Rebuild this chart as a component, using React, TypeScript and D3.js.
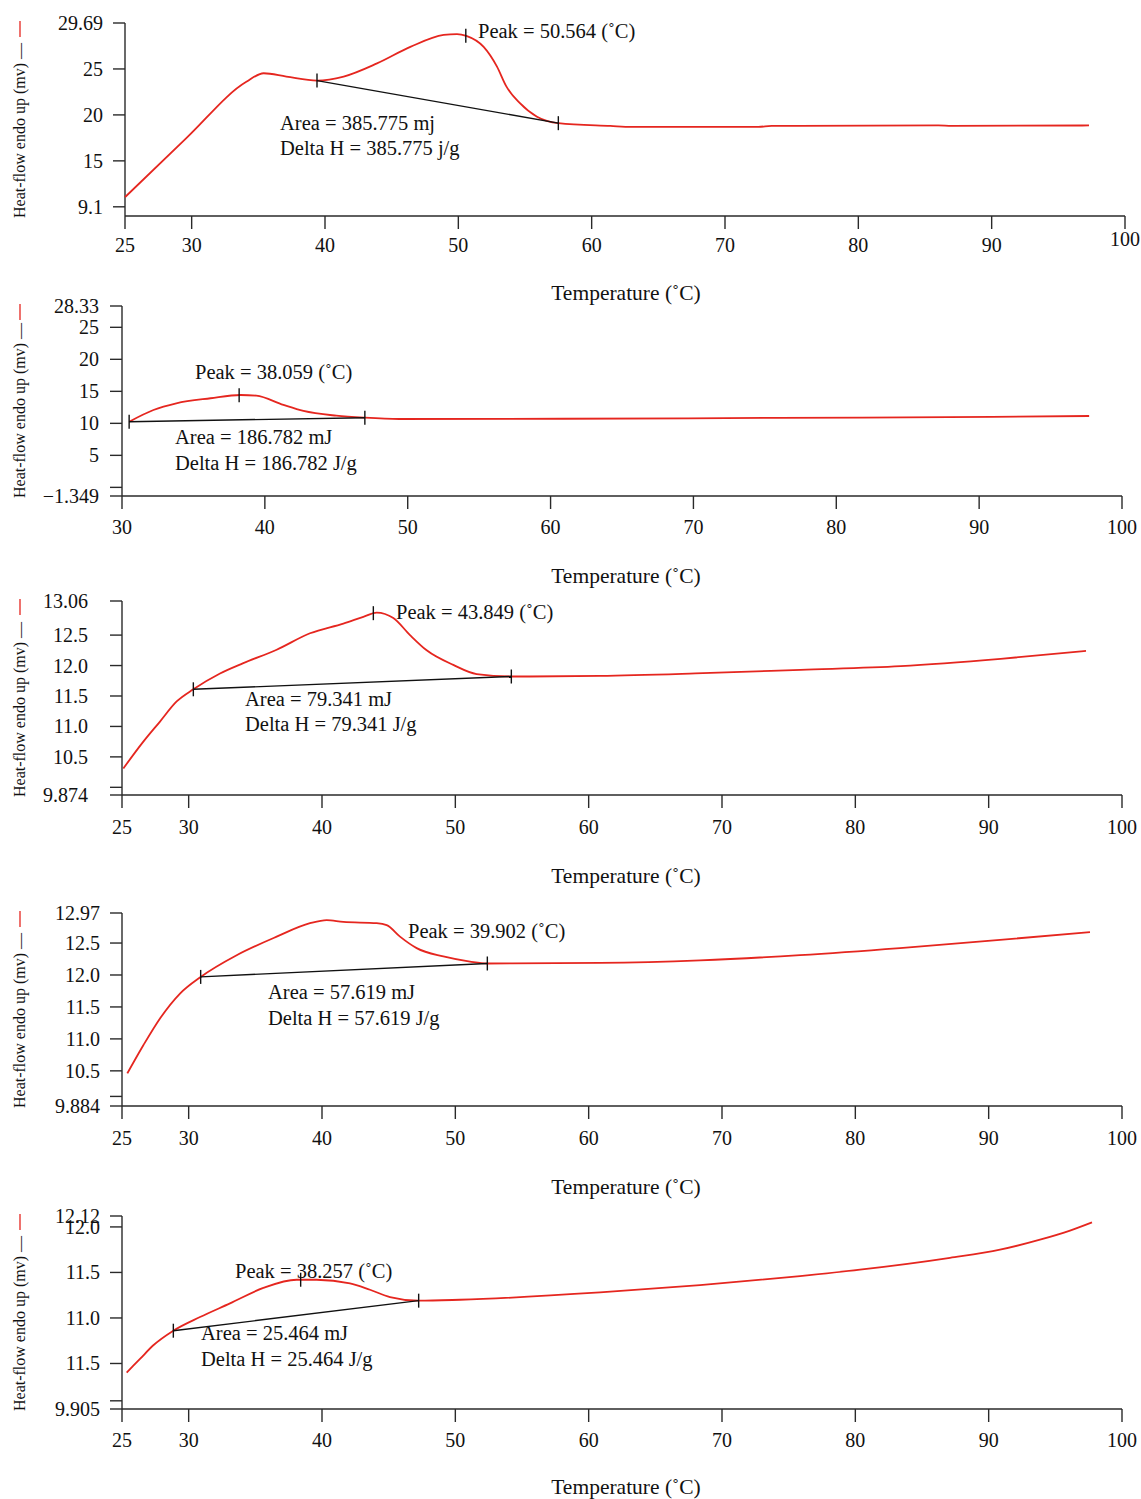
import React from "react";
import * as d3 from "d3";

// ---------- DATA ----------
const xTicksA = [25, 30, 40, 50, 60, 70, 80, 90, 100];
const xTicksB = [30, 40, 50, 60, 70, 80, 90, 100];

// Panel 1
const p1Temp = [25.0, 29.6, 34.1, 35.4, 37.1, 39.4, 41.4, 43.9, 46.4, 48.9, 49.9, 50.6, 51.9, 52.9, 53.6, 54.6, 55.9, 57.5, 61.4, 63.0, 72.5, 73.5, 86.0, 87.0, 97.3];
const p1Heat = [11.05, 17.47, 23.6, 24.53, 24.17, 23.73, 24.17, 25.6, 27.4, 28.7, 28.8, 28.6, 27.4, 25.25, 23.1, 21.3, 19.8, 19.1, 18.8, 18.7, 18.7, 18.8, 18.85, 18.8, 18.85];
const p1Base = [[39.4, 23.73], [57.5, 19.1]];
const p1Peak = [50.56, 28.6];
const p1YTicks = [30, 25, 20, 15, 10];
const p1YLabels = ["29.69", "25", "20", "15", "9.1"];
const p1YDomain = [9.0, 30.0];
const p1Text = ["Peak = 50.564 (˚C)", "Area = 385.775 mj", "Delta H = 385.775 j/g"];

// Panel 2
const p2Temp = [30.5, 32.2, 33.8, 36.2, 38.3, 39.4, 41.3, 42.7, 45.0, 47.0, 49.4, 60.9, 75.9, 90.9, 97.7];
const p2Heat = [10.26, 12.09, 13.13, 13.92, 14.43, 14.32, 12.87, 11.93, 11.2, 10.88, 10.68, 10.72, 10.85, 11.0, 11.15];
const p2Base = [[30.5, 10.26], [47.0, 10.88]];
const p2Peak = [38.2, 14.4];
const p2YTicks = [28.33, 25, 20, 15, 10, 5, 0, -1.349];
const p2YLabels = ["28.33", "25", "20", "15", "10", "5", "", "\u22121.349"];
const p2YDomain = [-1.349, 28.33];
const p2Text = ["Peak = 38.059 (˚C)", "Area = 186.782 mJ", "Delta H = 186.782 J/g"];

// Panel 3
const p3Temp = [25.1, 26.6, 27.85, 29.1, 30.35, 32.35, 34.1, 36.6, 39.1, 41.6, 43.1, 44.1, 45.35, 46.6, 47.85, 49.85, 51.6, 54.2, 60.85, 68.0, 75.9, 83.4, 90.9, 97.3];
const p3Heat = [10.31, 10.75, 11.08, 11.41, 11.61, 11.87, 12.04, 12.26, 12.53, 12.69, 12.8, 12.87, 12.78, 12.5, 12.25, 12.01, 11.86, 11.82, 11.83, 11.87, 11.93, 11.99, 12.11, 12.24];
const p3Base = [[30.35, 11.61], [54.2, 11.82]];
const p3Peak = [43.85, 12.86];
const p3YTicks = [13.06, 12.5, 12.0, 11.5, 11.0, 10.5, 10.0, 9.874];
const p3YLabels = ["13.06", "12.5", "12.0", "11.5", "11.0", "10.5", "", "9.874"];
const p3YDomain = [9.874, 13.06];
const p3Text = ["Peak = 43.849 (˚C)", "Area = 79.341 mJ", "Delta H = 79.341 J/g"];

// Panel 4
const p4Temp = [25.4, 26.6, 27.85, 29.35, 30.9, 33.6, 36.6, 39.1, 40.35, 41.6, 44.1, 44.85, 45.85, 47.1, 49.1, 51.1, 52.4, 60.85, 68.35, 75.85, 83.35, 90.85, 97.6];
const p4Heat = [10.46, 10.9, 11.32, 11.71, 11.97, 12.31, 12.6, 12.81, 12.86, 12.83, 12.81, 12.78, 12.6, 12.42, 12.29, 12.21, 12.18, 12.19, 12.23, 12.31, 12.42, 12.55, 12.67];
const p4Base = [[30.9, 11.97], [52.4, 12.18]];
const p4Peak: number[] | null = null;
const p4YTicks = [12.97, 12.5, 12.0, 11.5, 11.0, 10.5, 10.1, 9.95];
const p4YLabels = ["12.97", "12.5", "12.0", "11.5", "11.0", "10.5", "", "9.884"];
const p4YDomain = [9.95, 12.97];
const p4Text = ["Peak = 39.902 (˚C)", "Area = 57.619 mJ", "Delta H = 57.619 J/g"];

// Panel 5
const p5Temp = [25.35, 26.35, 27.35, 28.85, 30.85, 33.1, 35.6, 38.1, 39.6, 42.1, 43.6, 45.1, 47.25, 50.35, 60.85, 68.35, 75.85, 80.35, 87.1, 90.85, 93.85, 96.1, 97.75];
const p5Heat = [10.4, 10.55, 10.7, 10.86, 11.01, 11.16, 11.33, 11.42, 11.42, 11.38, 11.31, 11.23, 11.19, 11.2, 11.28, 11.36, 11.46, 11.53, 11.66, 11.75, 11.86, 11.96, 12.05];
const p5Base = [[28.85, 10.86], [47.25, 11.19]];
const p5Peak = [38.4, 11.42];
const p5YTicks = [12.12, 12.0, 11.5, 11.0, 10.5, 10.09, 10.0];
const p5YLabels = ["12.12", "12.0", "11.5", "11.0", "11.5", "", "9.905"];
const p5YDomain = [10.0, 12.12];
const p5Text = ["Peak = 38.257 (˚C)", "Area = 25.464 mJ", "Delta H = 25.464 J/g"];

const yTitle = "Heat-flow endo up (mv) \u2014";
const xTitle = "Temperature (˚C)";

// ---------- LAYOUT ----------
const FONT = '"Liberation Serif", "Times New Roman", serif';
const RED = "#e5261f";
const AX = "#2a2a2a";

const panels = [
  { temp: p1Temp, heat: p1Heat, base: p1Base, peak: p1Peak, yTicks: p1YTicks, yLabels: p1YLabels, yDomain: p1YDomain, xDomain: [25, 100], xTicks: xTicksA, text: p1Text,
    top: 23, bottom: 216, left: 125, right: 1125, labelRight: 103, xLabelDy: 29, lastLabelDy: 23, peakPos: [478, 31], areaPos: [280, 123], deltaPos: [280, 148], titleY: 292 },
  { temp: p2Temp, heat: p2Heat, base: p2Base, peak: p2Peak, yTicks: p2YTicks, yLabels: p2YLabels, yDomain: p2YDomain, xDomain: [30, 100], xTicks: xTicksB, text: p2Text,
    top: 306, bottom: 496, left: 122, right: 1122, labelRight: 99, xLabelDy: 31, lastLabelDy: 31, peakPos: [195, 372], areaPos: [175, 437], deltaPos: [175, 463], titleY: 575 },
  { temp: p3Temp, heat: p3Heat, base: p3Base, peak: p3Peak, yTicks: p3YTicks, yLabels: p3YLabels, yDomain: p3YDomain, xDomain: [25, 100], xTicks: xTicksA, text: p3Text,
    top: 601, bottom: 795, left: 122, right: 1122, labelRight: 88, xLabelDy: 32, lastLabelDy: 32, peakPos: [396, 612], areaPos: [245, 699], deltaPos: [245, 724], titleY: 875 },
  { temp: p4Temp, heat: p4Heat, base: p4Base, peak: p4Peak, yTicks: p4YTicks, yLabels: p4YLabels, yDomain: p4YDomain, xDomain: [25, 100], xTicks: xTicksA, text: p4Text,
    top: 913, bottom: 1106, left: 122, right: 1122, labelRight: 100, xLabelDy: 32, lastLabelDy: 32, peakPos: [408, 931], areaPos: [268, 992], deltaPos: [268, 1018], titleY: 1186 },
  { temp: p5Temp, heat: p5Heat, base: p5Base, peak: p5Peak, yTicks: p5YTicks, yLabels: p5YLabels, yDomain: p5YDomain, xDomain: [25, 100], xTicks: xTicksA, text: p5Text,
    top: 1216, bottom: 1409, left: 122, right: 1122, labelRight: 100, xLabelDy: 31, lastLabelDy: 31, peakPos: [235, 1271], areaPos: [201, 1333], deltaPos: [201, 1359], titleY: 1486 },
];

function Panel({ c }: { c: any }) {
  const x = d3.scaleLinear().domain(c.xDomain).range([c.left, c.right]);
  const y = d3.scaleLinear().domain(c.yDomain).range([c.bottom, c.top]);
  const line = d3
    .line<number[]>()
    .x((d) => x(d[0]))
    .y((d) => y(d[1]))
    .curve(d3.curveMonotoneX);
  const pts = c.temp.map((t: number, i: number) => [t, c.heat[i]]);
  const markers: number[][] = [c.base[0], c.base[1]];
  if (c.peak) markers.push(c.peak);
  const tickLen = 13;
  const nX = c.xTicks.length;
  return (
    <g fontFamily={FONT} fill="#111">
      <line x1={c.left} x2={c.left} y1={c.top} y2={c.bottom} stroke={AX} strokeWidth={1.4} />
      <line x1={c.left} x2={c.right} y1={c.bottom} y2={c.bottom} stroke={AX} strokeWidth={1.4} />
      {c.yTicks.map((v: number, i: number) => (
        <g key={"y" + i}>
          <line x1={c.left - 12} x2={c.left} y1={y(v)} y2={y(v)} stroke={AX} strokeWidth={1.4} />
          <text x={c.labelRight} y={y(v)} dy="0.35em" textAnchor="end" fontSize={20}>
            {c.yLabels[i]}
          </text>
        </g>
      ))}
      {c.xTicks.map((v: number, i: number) => (
        <g key={"x" + i}>
          <line x1={x(v)} x2={x(v)} y1={c.bottom} y2={c.bottom + tickLen} stroke={AX} strokeWidth={1.4} />
          <text x={x(v)} y={c.bottom + (i === nX - 1 ? c.lastLabelDy : c.xLabelDy)} dy="0.35em" textAnchor="middle" fontSize={20}>
            {v}
          </text>
        </g>
      ))}
      <text x={626} y={c.titleY} dy="0.35em" textAnchor="middle" fontSize={21.5}>
        {xTitle}
      </text>
      <line x1={20} x2={20} y1={c.top - 2} y2={c.top + 14} stroke={RED} strokeWidth={1.3} />
      <text transform={`translate(25,${c.bottom + 2}) rotate(-90)`} fontSize={16}>
        {yTitle}
      </text>
      <path d={line(pts) || ""} fill="none" stroke={RED} strokeWidth={1.8} />
      <path d={line(c.base) || ""} fill="none" stroke="#111" strokeWidth={1.4} />
      {markers.map((m, i) => (
        <line key={"m" + i} x1={x(m[0])} x2={x(m[0])} y1={y(m[1]) - 7} y2={y(m[1]) + 7} stroke="#111" strokeWidth={1.4} />
      ))}
      <text x={c.peakPos[0]} y={c.peakPos[1]} dy="0.35em" fontSize={20.5}>{c.text[0]}</text>
      <text x={c.areaPos[0]} y={c.areaPos[1]} dy="0.35em" fontSize={20.5}>{c.text[1]}</text>
      <text x={c.deltaPos[0]} y={c.deltaPos[1]} dy="0.35em" fontSize={20.5}>{c.text[2]}</text>
    </g>
  );
}

export default function App() {
  return (
    <svg
      width={1141}
      height={1499}
      style={{ position: "absolute", left: 0, top: 0, background: "#fff" }}
    >
      <rect width={1141} height={1499} fill="#fff" />
      {panels.map((c, i) => (
        <Panel key={i} c={c} />
      ))}
    </svg>
  );
}
